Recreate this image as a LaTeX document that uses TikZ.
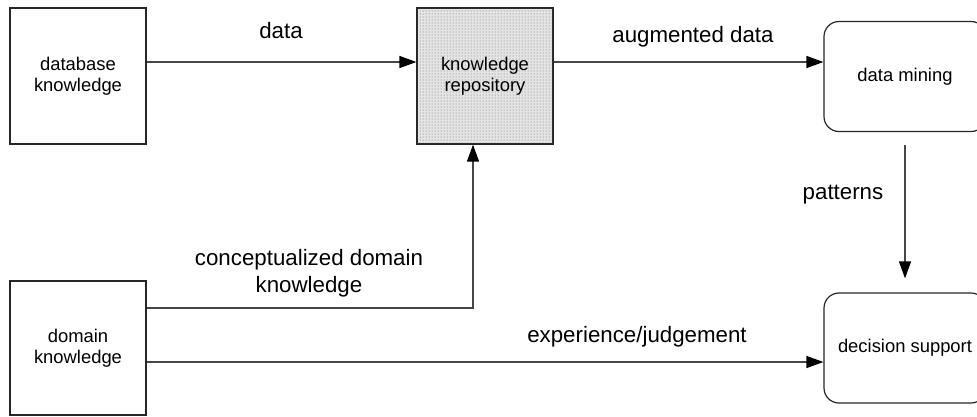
\documentclass[tikz,border=0pt]{standalone}
\usepackage{fontspec}
\setmainfont{Liberation Sans}
\usetikzlibrary{arrows.meta,patterns,calc}
\begin{document}
\begin{tikzpicture}[x=1pt,y=-1pt,
  box/.style={draw=black!85, line width=1.2pt, inner sep=0pt, align=center,
    font=\fontsize{18.4}{21}\selectfont},
  sqbox/.style={box, minimum width=136pt, minimum height=136pt},
  rbox/.style={box, rounded corners=15pt, minimum width=162pt, minimum height=110pt},
  lbl/.style={inner sep=0pt, anchor=base, font=\fontsize{22.3}{27}\selectfont},
  conn/.style={draw=black!72, line width=1.3pt,
    -{Triangle[length=17pt,width=12pt,color=black,fill=black]}}]
\useasboundingbox (0,0) rectangle (977,416);
\clip (0,0) rectangle (977,416);

% sources and repository
\node[sqbox] (db) at (78,76) {database\\knowledge};
\node[sqbox, minimum height=134pt] (dk) at (78,348) {domain\\knowledge};
\node[sqbox, fill=black!10, postaction={pattern=dots, pattern color=black!60}]
  (kr) at (485,76) {knowledge\\repository};

% processing and use
\node[rbox] (dm) at (905,76.5) {data mining};
\node[rbox] (ds) at (905,348) {decision support};

% flows
\draw[conn] ([yshift=14pt]db.east) -- ([yshift=14pt]kr.west);
\draw[conn] ([yshift=14pt]kr.east) -- ([yshift=14pt]kr.east -| dm.west);
\draw[conn, shorten <=13pt, shorten >=14pt] (dm.south) -- (ds.north);
\draw[conn] ([yshift=40pt]dk.east) -| ([xshift=-12pt]kr.south);
\draw[conn] ([yshift=-14pt]dk.east) -- ([yshift=-14pt]dk.east -| ds.west);

% flow labels
\node[lbl] (ldata) at (281,38) {data};
\node[lbl] (laug) at (693,42) {augmented data};
\node[lbl] (lpat) at (843,199) {patterns};
\node[lbl] (lcon1) at (309,265) {conceptualized domain};
\node[lbl] (lcon2) at (309,292) {knowledge};
\node[lbl] (lexp) at (637,342) {experience/judgement};
\end{tikzpicture}
\end{document}
